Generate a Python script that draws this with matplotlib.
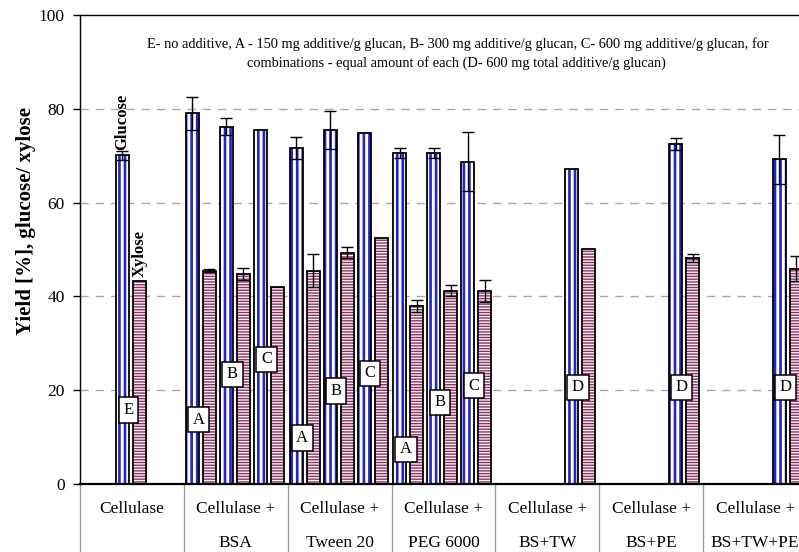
import numpy as np
import matplotlib
matplotlib.use("Agg")
import matplotlib.pyplot as plt

plt.rcParams["font.family"] = ["Liberation Serif", "DejaVu Serif"]

nan = np.nan

# ── Data ──────────────────────────────────────────────────────────────────────
cat_top = ["Cellulase", "Cellulase +", "Cellulase +", "Cellulase +",
           "Cellulase +", "Cellulase +", "Cellulase +"]
cat_bottom = ["", "BSA", "Tween 20", "PEG 6000", "BS+TW", "BS+PE", "BS+TW+PE"]

# three dose slots per category (A, B, C); E sits in slot B, D in slot C
glucose_A = [nan, 79.0, 71.6, 70.6, nan, nan, nan]
glucose_B = [70.1, 76.2, 75.5, 70.6, nan, nan, nan]
glucose_C = [nan, 75.5, 74.9, 68.7, 67.2, 72.5, 69.2]
glucose_err_A = [0, 3.5, 2.3, 1.0, 0, 0, 0]
glucose_err_B = [1.0, 1.8, 4.1, 1.0, 0, 0, 0]
glucose_err_C = [0, 0, 0, 6.3, 0, 1.3, 5.3]

xylose_A = [nan, 45.5, 45.5, 37.9, nan, nan, nan]
xylose_B = [43.3, 44.7, 49.3, 41.2, nan, nan, nan]
xylose_C = [nan, 42.1, 52.5, 41.2, 50.1, 48.2, 45.9]
xylose_err_A = [0, 0.3, 3.5, 1.3, 0, 0, 0]
xylose_err_B = [0, 1.3, 1.2, 1.2, 0, 0, 0]
xylose_err_C = [0, 0, 0, 2.4, 0, 0.8, 2.7]

labels_A = ["", "A", "A", "A", "", "", ""]
labels_B = ["E", "B", "B", "B", "", "", ""]
labels_C = ["", "C", "C", "C", "D", "D", "D"]
label_y_A = [0, 13.7, 9.8, 7.4, 0, 0, 0]
label_y_B = [15.8, 23.4, 19.8, 17.4, 0, 0, 0]
label_y_C = [0, 26.6, 23.6, 21.0, 20.6, 20.6, 20.6]

note_1 = ("E- no additive, A - 150 mg additive/g glucan, B- 300 mg additive/g glucan, "
          "C- 600 mg additive/g glucan, for")
note_2 = "combinations - equal amount of each (D- 600 mg total additive/g glucan)"

# ── Styling ───────────────────────────────────────────────────────────────────
GLU_HATCH = "#2424C8"
XYL_HATCH = "#8A3462"
XYL_FACE = "#FBF1F5"
GRID = "#C29AA2"
BAR_W = 0.125
OFFSET, PITCH = 0.08, 0.1637

fig = plt.figure(figsize=(7.99, 5.52), dpi=100)
ax = fig.add_axes([80 / 799, 68 / 552, 727 / 799, 469 / 552])

x_cat = np.arange(len(cat_top))


def hatched_bars(xs, vals, errs, hatch, hcolor, face, hlw):
    with plt.rc_context({"hatch.linewidth": hlw}):
        ax.bar(xs, vals, BAR_W, align="center", facecolor=face,
               edgecolor=hcolor, hatch=hatch, linewidth=0, zorder=2)
    ax.bar(xs, vals, BAR_W, align="center", fill=False,
           edgecolor="black", linewidth=1.3, zorder=3)
    e = np.array(errs, dtype=float)
    v = np.array(vals, dtype=float)
    m = (e > 0) & ~np.isnan(v)
    ax.errorbar(xs[m], v[m], yerr=e[m], fmt="none", ecolor="black",
                elinewidth=1.0, capsize=4.5, capthick=1.0, zorder=4)


groups = [
    (glucose_A, glucose_err_A, xylose_A, xylose_err_A, labels_A, label_y_A),
    (glucose_B, glucose_err_B, xylose_B, xylose_err_B, labels_B, label_y_B),
    (glucose_C, glucose_err_C, xylose_C, xylose_err_C, labels_C, label_y_C),
]

for k, (g, ge, xy, xe, lab, ly) in enumerate(groups):
    xg = x_cat + OFFSET + (2 * k) * PITCH
    xx = x_cat + OFFSET + (2 * k + 1) * PITCH
    hatched_bars(xg, g, ge, "|||", GLU_HATCH, "white", 1.9)
    hatched_bars(xx, xy, xe, "------", XYL_HATCH, XYL_FACE, 1.0)
    for i, t in enumerate(lab):
        if t:
            ax.text(xg[i] + 0.06, ly[i], t, ha="center", va="center",
                    fontsize=12, zorder=6,
                    bbox=dict(boxstyle="square,pad=0.28", fc="white",
                              ec="black", lw=1.1))

# series names above the plain cellulase bars
xg0 = x_cat[0] + OFFSET + 2 * PITCH
ax.text(xg0, glucose_B[0] + glucose_err_B[0] + 0.2, "Glucose", rotation=90,
        ha="center", va="bottom", fontsize=12, fontweight="bold", zorder=6)
ax.text(xg0 + PITCH + 0.005, xylose_B[0] + 0.8, "Xylose", rotation=90,
        ha="center", va="bottom", fontsize=12, fontweight="bold", zorder=6)

# ── Axes ──────────────────────────────────────────────────────────────────────
ax.set_xlim(0, len(cat_top))
ax.set_ylim(0, 100)
ax.set_yticks([0, 20, 40, 60, 80, 100])
ax.tick_params(axis="y", labelsize=12.5, direction="out", length=5, width=1, pad=6)
ax.set_xticks([])
for y in [20, 40, 60, 80]:
    ax.axhline(y, color=GRID, lw=1.0, ls=(0, (6, 5)), zorder=1)

ax.spines["right"].set_visible(False)
ax.spines["left"].set_linewidth(1.0)
ax.spines["top"].set_linewidth(1.0)
ax.spines["bottom"].set_linewidth(1.6)

ax.set_ylabel("Yield [%], glucose/ xylose", fontsize=15, fontweight="bold")
ax.yaxis.set_label_coords(-0.06, 0.56)

# category table below the axis
for i in range(len(cat_top) + 1):
    ax.plot([i, i], [0, -0.15], transform=ax.get_xaxis_transform(),
            color="#9A9A9A", lw=1.0, clip_on=False)
for i in range(len(cat_top)):
    ax.text(i + 0.5, -0.053, cat_top[i], transform=ax.get_xaxis_transform(),
            ha="center", va="center", fontsize=12.5)
    ax.text(i + 0.5, -0.125, cat_bottom[i], transform=ax.get_xaxis_transform(),
            ha="center", va="center", fontsize=12.5)

fig.text(458 / 799, 1 - 44 / 552, note_1, ha="center", va="center", fontsize=10.4)
fig.text(456 / 799, 1 - 63 / 552, note_2, ha="center", va="center", fontsize=10.4)

fig.savefig("out.png", dpi=100)
